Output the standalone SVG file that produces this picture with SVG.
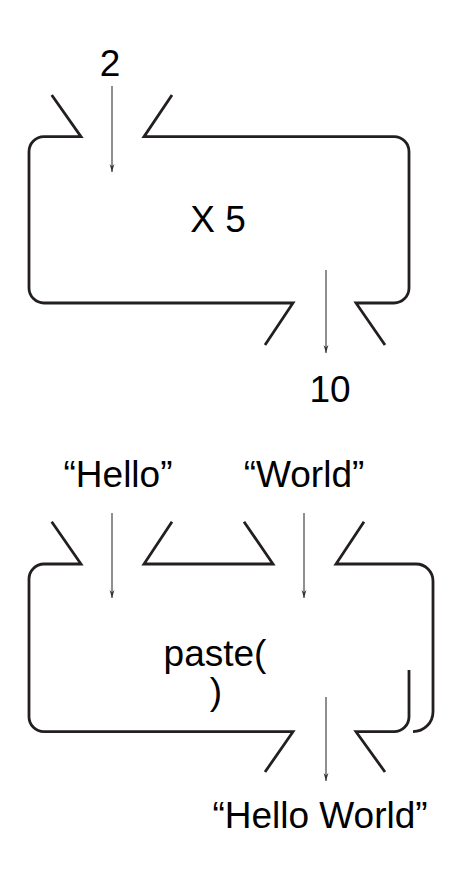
<svg xmlns="http://www.w3.org/2000/svg" width="466" height="877" viewBox="0 0 466 877">
<style>
.box{fill:none;stroke:#231f20;stroke-width:2.8;stroke-linejoin:miter;stroke-linecap:butt}
.arr{fill:none;stroke:#333;stroke-width:1.1}
text{font-family:"Liberation Sans",Arial,sans-serif;font-size:37px;fill:#000;text-anchor:middle}
</style>
<defs>
<marker id="ah" viewBox="0 0 10 10" refX="10" refY="5" markerWidth="8" markerHeight="8" markerUnits="userSpaceOnUse" orient="auto">
<path d="M0,2 L10,5 L0,8 L3,5 Z" fill="#333"/>
</marker>
</defs>
<g id="node-times5">
<path class="box" d="M51.7,95 L81,136.7 L44,136.7 A15,15 0 0 0 29,151.7 L29,288 A15,15 0 0 0 44,303 L293,303 L265,345"/>
<path class="box" d="M172,95 L144,136.7 L394,136.7 A15,15 0 0 1 409,151.7 L409,288 A15,15 0 0 1 394,303 L356,303 L385,345"/>
<text x="218" y="232">X 5</text>
</g>
<g id="node-in-2"><text x="110" y="76">2</text></g>
<g id="node-out-10"><text x="330" y="402">10</text></g>
<g id="node-paste">
<path class="box" d="M51.7,521.7 L81,564 L44,564 A15,15 0 0 0 29,579 L29,716.7 A15,15 0 0 0 44,731.7 L293,731.7 L265,772"/>
<path class="box" d="M172,521.7 L144,564 L273,564 L244,521.7"/>
<path class="box" d="M364,521.7 L336,564 L416,564 A17,17 0 0 1 433,581 L433,711.7 A20,20 0 0 1 413,731.7"/>
<path class="box" d="M385,772 L356,731.7 L394,731.7 A15,15 0 0 0 409,716.7 L409,670"/>
<text x="215" y="666">paste(</text>
<text x="216" y="704">)</text>
</g>
<g id="node-hello"><text x="118" y="487">“Hello”</text></g>
<g id="node-world"><text x="304" y="487">“World”</text></g>
<g id="node-helloworld"><text x="320" y="828">“Hello World”</text></g>
<g id="connectors">
<line class="arr" x1="112" y1="86" x2="112" y2="172" marker-end="url(#ah)"/>
<line class="arr" x1="326" y1="270" x2="326" y2="353" marker-end="url(#ah)"/>
<line class="arr" x1="112" y1="513" x2="112" y2="598" marker-end="url(#ah)"/>
<line class="arr" x1="304" y1="513" x2="304" y2="598" marker-end="url(#ah)"/>
<line class="arr" x1="326" y1="697" x2="326" y2="781" marker-end="url(#ah)"/>
</g>
</svg>
